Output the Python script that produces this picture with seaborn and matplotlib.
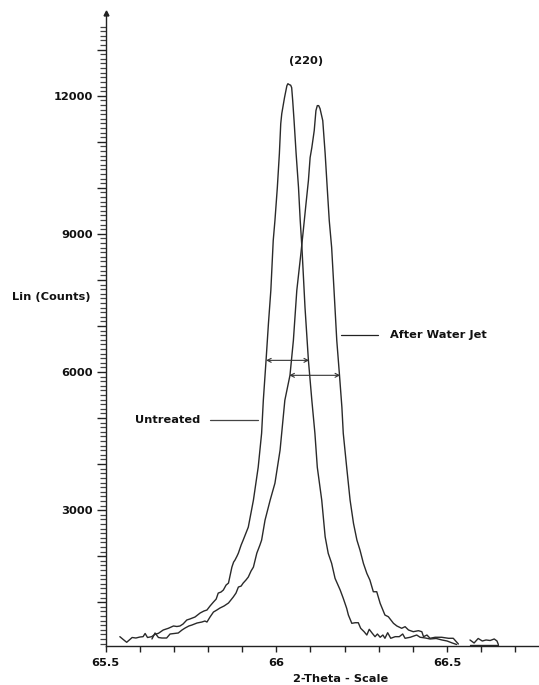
import numpy as np
import pandas as pd
import matplotlib
matplotlib.use("Agg")
import matplotlib.pyplot as plt
from matplotlib.ticker import MultipleLocator, FixedLocator, FuncFormatter
import seaborn as sns

# ---------------- data ----------------
untreated_theta = [65.542, 65.552, 65.562, 65.578, 65.589, 65.601, 65.610, 65.616, 65.623, 65.635,
                   65.645, 65.655, 65.669, 65.684, 65.699, 65.709, 65.718, 65.727, 65.738, 65.747,
                   65.762, 65.777, 65.788, 65.797, 65.806, 65.816, 65.824, 65.830, 65.838, 65.845,
                   65.853, 65.860, 65.865, 65.870, 65.875, 65.879, 65.885, 65.889, 65.897, 65.903,
                   65.918, 65.933, 65.947, 65.957, 65.962, 65.970, 65.977, 65.984, 65.991, 65.996,
                   66.003, 66.009, 66.013, 66.016, 66.024, 66.031, 66.034, 66.038, 66.042, 66.045,
                   66.048, 66.052, 66.058, 66.065, 66.070, 66.075, 66.084, 66.094, 66.104, 66.113,
                   66.120, 66.133, 66.143, 66.152, 66.162, 66.172, 66.187, 66.196, 66.206, 66.211,
                   66.221, 66.231, 66.240, 66.247, 66.257, 66.265, 66.272, 66.281, 66.289, 66.296,
                   66.304, 66.312, 66.318, 66.326, 66.335, 66.348, 66.360, 66.370, 66.377, 66.392,
                   66.411, 66.421, 66.436, 66.450, 66.468, 66.485, 66.500, 66.515, 66.528]
untreated_counts = [252, 190, 130, 234, 223, 245, 252, 321, 234, 252,
                    304, 325, 397, 434, 484, 473, 484, 527, 614, 636,
                    679, 766, 809, 831, 918, 1004, 1069, 1199, 1221, 1265,
                    1373, 1416, 1590, 1763, 1872, 1915, 2002, 2067, 2241, 2349,
                    2631, 3217, 3932, 4670, 5386, 6253, 7056, 7772, 8856, 9290,
                    10006, 10743, 11394, 11611, 11958, 12218, 12261, 12240, 12229, 12175,
                    11893, 11459, 10743, 10006, 9290, 8705, 7404, 6253, 5386, 4670,
                    3932, 3217, 2421, 2061, 1844, 1518, 1265, 1085, 868, 722,
                    542, 555, 555, 434, 360, 288, 412, 325, 252, 310,
                    239, 288, 217, 338, 217, 252, 252, 310, 217, 239,
                    288, 239, 224, 202, 213, 180, 158, 115, 82]
untreated_end_theta = [66.567, 66.608, 66.650]
untreated_end_counts = [82, 82, 82]

jet_theta = [65.636, 65.645, 65.655, 65.665, 65.679, 65.689, 65.701, 65.713, 65.724, 65.733,
             65.744, 65.753, 65.768, 65.782, 65.791, 65.797, 65.806, 65.816, 65.826, 65.835,
             65.847, 65.860, 65.867, 65.874, 65.882, 65.889, 65.897, 65.903, 65.911, 65.918,
             65.926, 65.933, 65.938, 65.943, 65.952, 65.957, 65.967, 65.982, 65.996, 66.011,
             66.025, 66.031, 66.040, 66.050, 66.060, 66.072, 66.079, 66.087, 66.094, 66.099,
             66.104, 66.111, 66.116, 66.120, 66.124, 66.128, 66.136, 66.143, 66.149, 66.155,
             66.162, 66.169, 66.177, 66.185, 66.192, 66.196, 66.206, 66.216, 66.226, 66.236,
             66.245, 66.255, 66.265, 66.274, 66.284, 66.294, 66.304, 66.318, 66.328, 66.343,
             66.353, 66.367, 66.377, 66.387, 66.401, 66.416, 66.426, 66.431, 66.441, 66.450,
             66.465, 66.484, 66.504, 66.518, 66.533]
jet_counts = [202, 332, 234, 223, 223, 310, 321, 332, 397, 440,
              484, 505, 549, 570, 592, 570, 679, 787, 831, 874,
              918, 983, 1048, 1113, 1199, 1330, 1351, 1416, 1481, 1547,
              1677, 1763, 1915, 2067, 2241, 2349, 2783, 3217, 3585, 4301,
              5386, 5603, 5928, 6687, 7772, 8574, 9073, 9659, 10158, 10657,
              10874, 11242, 11676, 11785, 11785, 11720, 11459, 10743, 10006, 9290,
              8705, 7772, 6687, 5928, 5234, 4670, 3932, 3217, 2711, 2349,
              2132, 1844, 1627, 1481, 1228, 1228, 976, 722, 685, 542,
              484, 434, 469, 397, 360, 382, 360, 252, 288, 217,
              239, 239, 217, 217, 93]
jet_end_theta = [66.567, 66.579, 66.591, 66.603, 66.614, 66.626, 66.638, 66.646, 66.650]
jet_end_counts = [180, 115, 213, 158, 180, 169, 202, 158, 82]

x_tick_values = [65.5, 66.0, 66.5]
x_tick_labels = ["65.5", "66", "66.5"]
y_label_values = [3000, 6000, 9000, 12000]

peak_label = "(220)"
untreated_label = "Untreated"
jet_label = "After Water Jet"

# FWHM arrows (start theta, end theta, counts)
fwhm_untreated = (65.970, 66.096, 6253)
fwhm_jet = (66.038, 66.187, 5928)

# ---------------- figure ----------------
sns.set_style("white")
plt.rcParams["font.family"] = ["DejaVu Sans"]

W, H = 539, 685
FS = 8.2
fig = plt.figure(figsize=(W / 100, H / 100), dpi=100)
ax = fig.add_axes([105.5 / W, 39.3 / H, 1 - 105.5 / W, (671.7 - 39.3) / H])

line_color = "#2a2a2a"
frames = []
for seg, (tx, cy, name) in enumerate([
    (untreated_theta, untreated_counts, "U"),
    (untreated_end_theta, untreated_end_counts, "U"),
    (jet_theta, jet_counts, "J"),
    (jet_end_theta, jet_end_counts, "J"),
]):
    frames.append(pd.DataFrame({"theta": tx, "counts": cy, "seg": seg, "sample": name}))
df = pd.concat(frames, ignore_index=True)

sns.lineplot(data=df, x="theta", y="counts", units="seg", estimator=None,
             color=line_color, lw=1.0, ax=ax, legend=False)

ax.set_xlim(65.5, 66.769)
ax.set_ylim(56, 13790)

for s in ["top", "right"]:
    ax.spines[s].set_visible(False)
for s in ["left", "bottom"]:
    ax.spines[s].set_color("#222222")
    ax.spines[s].set_linewidth(1.0)

ax.set_xticks(x_tick_values)
ax.set_xticklabels(x_tick_labels)
ax.xaxis.set_minor_locator(MultipleLocator(0.1))
ax.yaxis.set_major_locator(FixedLocator(np.arange(1000, 13001, 1000)))
ax.yaxis.set_minor_locator(FixedLocator(np.arange(100, 13501, 100)))
ax.yaxis.set_major_formatter(FuncFormatter(
    lambda v, p: f"{int(round(v))}" if int(round(v)) in y_label_values else ""))

ax.tick_params(axis="x", which="both", bottom=True, direction="out", length=4.5, width=1.0,
               color="#222222", pad=4.5, labelsize=FS)
ax.tick_params(axis="y", which="major", left=True, direction="out", length=6.5, width=1.0,
               color="#222222", pad=2.5, labelsize=FS)
ax.tick_params(axis="y", which="minor", left=True, direction="out", length=4, width=0.9,
               color="#444444")
for lab in ax.get_xticklabels() + ax.get_yticklabels():
    lab.set_fontweight("bold")
    lab.set_color("#111111")

ax.set_xlabel("")
ax.set_ylabel("")

# arrow tip at the top of the y axis
ax.plot([0], [1], marker="^", ms=3.5, color="#222222", transform=ax.transAxes, clip_on=False)

# axis titles
fig.text(51 / W, 1 - 297 / H, "Lin (Counts)", ha="center", va="center",
         fontsize=FS, fontweight="bold", color="#111111")
fig.text(341 / W, 1 - 679 / H, "2-Theta - Scale", ha="center", va="center",
         fontsize=FS, fontweight="bold", color="#111111")

# annotations
ax.text(66.087, 12760, peak_label, ha="center", va="center",
        fontsize=FS, fontweight="bold", color="#111111")

ax.plot([65.806, 65.947], [4952, 4952], color="#444444", lw=0.9)
ax.text(65.586, 4952, untreated_label, ha="left", va="center",
        fontsize=FS, fontweight="bold", color="#111111")

ax.plot([66.189, 66.299], [6796, 6796], color="#222222", lw=0.9)
ax.text(66.333, 6796, jet_label, ha="left", va="center",
        fontsize=FS, fontweight="bold", color="#111111")

for (x0, x1, yv) in [fwhm_untreated, fwhm_jet]:
    ax.annotate("", xy=(x1, yv), xytext=(x0, yv),
                arrowprops=dict(arrowstyle="<->", lw=0.8, color="#333333",
                                shrinkA=0, shrinkB=0, mutation_scale=7))

fig.savefig("out.png", dpi=100, facecolor="white")
